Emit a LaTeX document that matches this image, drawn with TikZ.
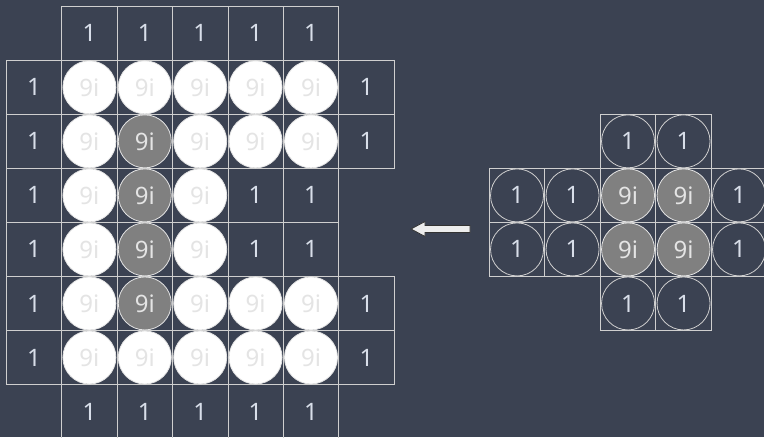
\documentclass[tikz,border=0pt]{standalone}
\usepackage{fontspec}
\setmainfont{Noto Sans}
\usetikzlibrary{shapes.geometric}
\definecolor{bgc}{HTML}{3B4252}
\definecolor{gridc}{HTML}{CFCFCF}
\definecolor{onec}{HTML}{D8DEE9}
\definecolor{ninec}{HTML}{E4E4E4}
\definecolor{grayc}{HTML}{808080}
\begin{document}
\begin{tikzpicture}[x=1pt,y=-1pt,
  cellbox/.style={draw=gridc,line width=0.8pt,minimum width=55.4pt,minimum height=54pt,inner sep=0pt,text=onec,font=\fontsize{24}{26}\selectfont},
  rcellbox/.style={cellbox,minimum width=55.5pt},
  whitedisc/.style={circle,fill=white,draw=ninec,line width=0.8pt,minimum size=53pt,inner sep=0pt,text=ninec,font=\fontsize{24}{26}\selectfont},
  graydisc/.style={circle,fill=grayc,draw=ninec,line width=0.8pt,minimum size=53pt,inner sep=0pt,text=ninec,font=\fontsize{24}{26}\selectfont},
  darkdisc/.style={circle,fill=bgc,draw=gridc,line width=0.8pt,minimum size=53pt,inner sep=0pt,text=onec,font=\fontsize{24}{26}\selectfont},
  arrowshape/.style={fill=white!93!black,draw=black!80,line width=0.8pt,line join=miter}
]
\fill[bgc] (0,0) rectangle (764,437);
\useasboundingbox (0,0) rectangle (764,437);
% left grid: cells with 1
\foreach \c/\r in {1/0,2/0,3/0,4/0,5/0,
  0/1,6/1,0/2,6/2,0/3,4/3,5/3,0/4,4/4,5/4,0/5,6/5,0/6,6/6,
  1/7,2/7,3/7,4/7,5/7}
  \node[cellbox] (L-\c-\r) at ({34+55.4*\c},{33.3+54.03*\r}) {1};
% left grid: cells holding discs
\foreach \c/\r in {1/1,2/1,3/1,4/1,5/1,
  1/2,2/2,3/2,4/2,5/2,1/3,2/3,3/3,1/4,2/4,3/4,
  1/5,2/5,3/5,4/5,5/5,1/6,2/6,3/6,4/6,5/6}
  \node[cellbox] (L-\c-\r) at ({34+55.4*\c},{33.3+54.03*\r}) {};
% right grid cells
\foreach \c/\r in {2/2,3/2,0/3,1/3,2/3,3/3,4/3,0/4,1/4,2/4,3/4,4/4,2/5,3/5}
  \node[rcellbox] (R-\c-\r) at ({517.05+55.5*\c},{33.3+54.03*\r}) {};
% left discs
\foreach \c/\r in {1/1,2/1,3/1,4/1,5/1,
  1/2,3/2,4/2,5/2,1/3,3/3,1/4,3/4,
  1/5,3/5,4/5,5/5,1/6,2/6,3/6,4/6,5/6}
  \node[whitedisc] (LD-\c-\r) at (L-\c-\r) {9i};
\foreach \r in {2,3,4,5}
  \node[graydisc] (LD-2-\r) at (L-2-\r) {9i};
% right discs
\foreach \c/\r in {2/2,3/2,0/3,1/3,4/3,0/4,1/4,4/4,2/5,3/5}
  \node[darkdisc] (RD-\c-\r) at (R-\c-\r) {1};
\foreach \c/\r in {2/3,3/3,2/4,3/4}
  \node[graydisc] (RD-\c-\r) at (R-\c-\r) {9i};
% arrow
\draw[arrowshape] (411,229) -- (425,221.5) -- (425,225.5) -- (470,225.5) -- (470,232.5) -- (425,232.5) -- (425,236.5) -- cycle;
\end{tikzpicture}
\end{document}
